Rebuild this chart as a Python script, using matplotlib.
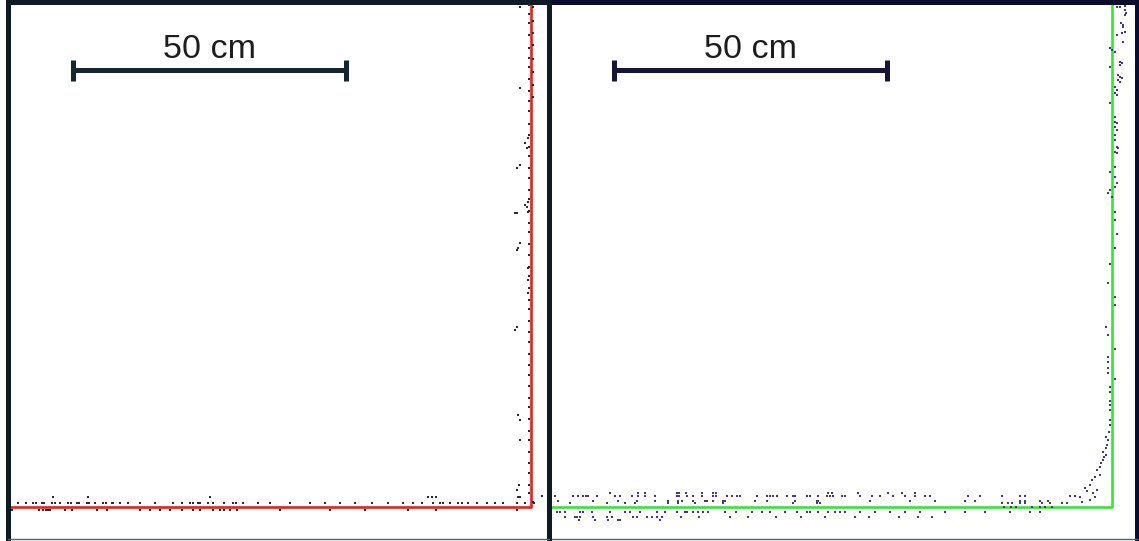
import matplotlib.pyplot as plt
import numpy as np

# два вида сверху: угол стены и точки лидара, масштаб в см
wall_red_x = [-96, 0, 0]
wall_red_y = [0, 0, 93]
wall_green_x = [-103, 0, 0]
wall_green_y = [0, 0, 93]
scale_len = 50
scale_text = "50 cm"

# левая панель: точки вдоль пола (ряды по высоте)
left_row_above = [-94.0, -92.5, -91.2, -90.7, -89.6, -89.2, -87.7, -87.2, -86.3, -84.8,
                  -84.2, -83.1, -82.8, -81.3, -80.9, -79.9, -78.4, -77.8, -76.7, -76.5,
                  -75.3, -73.8, -71.6, -68.9, -65.6, -63.9, -62.5, -61.9, -61.0, -60.6,
                  -59.1, -58.2, -56.2, -54.6, -54.0, -52.7, -50.0, -47.8, -44.1, -40.5,
                  -37.7, -35.0, -32.2, -29.1, -26.2, -23.4, -21.6, -20.0, -18.0, -16.7,
                  -16.1, -14.8, -13.4, -12.6, -11.5, -9.9, -8.1, -6.6, -5.1, -2.6, -1.1]
left_row_below = [-95.1, -90.1, -89.4, -88.8, -88.5, -88.1, -85.3, -84.0, -79.5, -77.7,
                  -71.6, -69.8, -67.9, -66.1, -63.9, -61.9, -60.6, -58.2, -57.0, -56.2,
                  -55.1, -53.8, -46.0, -36.8, -30.4, -22.5, -17.4, -2.6]
left_row_high = [-87.5, -81.1, -58.8, -18.9, -18.1, -17.4, -2.4, -2.0]
# левая панель: точки вдоль стены
left_col = [92.0, 90.3, 88.6, 86.4, 84.1, 82.2, 80.5, 78.3, 76.1, 74.4, 72.5, 70.2, 68.1,
            66.0, 64.2, 62.0, 60.3, 58.1, 56.5, 54.2, 52.0, 50.3, 48.1, 46.2, 44.0, 42.3,
            40.1, 38.0, 36.2, 34.1, 32.0, 30.3, 28.1, 26.0, 24.2, 22.1, 20.0, 18.3, 16.1,
            14.0, 12.2, 10.1, 8.0, 6.2, 4.1, 2.5]
left_col_right = [91.5, 89.0, 86.8, 84.6, 82.0, 79.6, 77.2, 75.0]
left_other_x = [-2.0, -2.0, -0.5, -1.1, -0.7, -2.6, -2.0, -0.5, -1.1, -2.9, -2.6, -0.5,
                -0.7, -2.6, -2.0, -2.4, -0.5, -0.5, -0.5, -2.9, -2.6, -2.4, -2.0, -2.0,
                -2.6, -2.2, 0.3, 0.5, 2.0]
left_other_y = [91.6, 76.7, 67.6, 66.7, 65.8, 62.1, 62.6, 55.9, 55.3, 53.8, 53.8, 54.0,
                54.9, 47.1, 48.4, 47.4, 43.8, 41.6, 39.2, 32.4, 33.0, 16.8, 15.9, 12.3,
                3.1, 4.0, 1.0, 0.8, 2.0]

# правая панель: точки вдоль пола
right_row_26 = [-91.9, -86.8, -85.5, -79.7, -79.3, -78.0, -75.1, -73.1, -72.5, -52.0,
                -51.3, -46.5, -41.0, -38.5, -36.0]
right_row_20 = [-102.0, -98.7, -97.8, -96.9, -96.3, -95.9, -94.3, -91.0, -90.1, -87.9,
                -86.8, -85.5, -83.7, -79.7, -79.3, -77.8, -76.7, -75.1, -73.1, -72.5,
                -70.5, -69.6, -68.7, -68.1, -65.0, -63.2, -62.6, -62.1, -61.4, -59.5,
                -58.4, -58.1, -55.9, -55.3, -53.8, -52.2, -51.6, -51.1, -49.5, -48.9,
                -46.2, -44.0, -42.5, -40.1, -37.9, -36.1, -34.2, -33.3, -26.4, -24.2,
                -20.1, -16.8, -15.9]
right_row_11 = [-101.5, -95.1, -90.5, -87.0, -83.7, -81.3, -79.5, -78.8, -76.7, -74.5,
                -74.2, -73.1, -71.2, -70.8, -65.4, -63.2, -58.1, -54.0, -53.8, -44.3,
                -37.0, -32.4, -26.9, -25.1, -16.8, -15.9, -13.2, -11.7]
right_row_07 = [-99.3, -92.5, -89.2, -87.4, -81.3, -79.5, -76.4, -71.2, -58.4, -54.0,
                -53.5, -20.1, -19.0, -18.3, -16.8, -15.9, -12.8, -11.4, -9.2, -8.2]
right_row_00 = [-19.8, -18.5, -17.6, -14.6, -13.2, -12.3, -11.0]
right_row_m09 = [-101.6, -101.1, -100.2, -97.4, -96.9, -95.2, -91.9, -89.2, -88.3, -86.4,
                 -83.3, -81.9, -79.7, -78.2, -77.8, -76.7, -75.8, -74.9, -74.0, -70.8,
                 -68.9, -65.9, -64.1, -62.6, -59.9, -57.7, -55.9, -55.3, -53.8, -52.0,
                 -50.7, -49.8, -48.9, -46.2, -43.4, -40.7, -37.9, -35.2, -30.6, -26.9,
                 -23.3, -18.7, -15.0, -13.2]
right_row_m18 = [-100.2, -98.4, -98.0, -97.4, -95.1, -92.5, -91.6, -87.7, -87.0, -85.2,
                 -84.2, -83.3, -82.4, -79.0, -75.6, -70.0, -66.7, -61.5, -57.0, -52.6,
                 -47.0, -44.5, -39.0, -35.5, -33.0]
right_row_m24 = [-94.7, -92.3, -90.1, -97.6, -90.5, -82.8]
# правая панель: угол и стена
right_wall_x = [-7.7, -6.8, -5.9, -5.5, -4.0, -3.1, -3.5, -4.6, -5.0, -4.0, -2.7, -3.7,
                -3.1, -2.2, -2.7, -2.2, -2.0, -1.6, -1.5, -1.1, -1.6, -1.1, -0.9, -0.7,
                -1.1, -0.5, -0.4, -0.4, -0.4, -0.4,
                0.9, 1.5, 2.4, 2.4, 2.6, 2.4, 1.6, 2.0, 2.0, 1.8, 2.4, 0.9, 2.0, -0.4,
                0.0, 0.5, 1.5, 1.8, 1.5, -0.4, 1.1, 1.5, 1.8, 1.1, 1.5, 0.5, 0.9, 0.5,
                0.9, -0.4, 0.5, 0.5, 0.9, 0.5, 0.9, 0.5, 0.5, 0.9, 1.1, 0.5, 0.9, 0.5,
                -0.4, 0.5, 0.9, 0.5, -0.4, -0.7, 0.0,
                0.5, 0.5, 0.9, 0.5, -0.4, -0.7, 0.5, 0.5, -1.1, -0.7, 0.5, -0.7, -0.7,
                -0.7, -0.7, 0.5, -0.4, -0.4, -0.4]
right_wall_y = [2.0, 2.0, 1.8, 0.9, 1.3, 1.8, 2.6, 2.9, 3.5, 4.0, 3.1, 4.9,
                5.5, 5.9, 6.8, 7.3, 8.1, 8.6, 9.2, 9.5, 10.1, 10.8, 11.4, 12.3,
                12.8, 13.7, 15.0, 15.9, 17.8, 18.7,
                91.6, 91.6, 91.8, 91.0, 90.5, 90.1, 88.6, 88.3, 87.9, 86.8, 87.0, 86.4,
                85.2, 84.1, 83.7, 83.3, 81.5, 81.3, 81.0, 80.6, 79.1, 78.8, 78.6, 78.2,
                77.8, 76.9, 76.4, 75.8, 75.5, 74.0, 71.4, 70.5, 70.3, 69.6, 69.0, 68.1,
                67.2, 65.9, 65.8, 65.0, 64.8, 62.3, 61.4, 60.4, 59.3, 58.6, 58.1, 57.5,
                56.8,
                54.0, 52.5, 50.0, 47.5, 44.5, 41.0, 38.5, 37.0, 33.0, 31.5, 29.0, 27.5,
                26.5, 25.5, 24.5, 23.5, 22.0, 21.0, 19.5]

red = '#e5221c'
green = '#3fe03a'
left_dark = '#0c1b26'
right_dark = '#0b0b2c'
ms = 1.8

fig = plt.figure(figsize=(11.39, 5.41), dpi=100)
ax1 = fig.add_axes([7.5 / 1139, 2 / 541, 541 / 1139, 537 / 541])
ax2 = fig.add_axes([548.5 / 1139, 2 / 541, 588.5 / 1139, 537 / 541])
ax1.set_zorder(2)
ax1.patch.set_alpha(0)

ax1.set_xlim(-95.88, 3.2)
ax2.set_xlim(-103.2, 4.58)
for ax in (ax1, ax2):
    ax.set_ylim(-5.86, 92.49)
    ax.set_xticks([])
    ax.set_yticks([])

# левая панель
ax1.plot(wall_red_x, wall_red_y, color=red, lw=1.9, zorder=2)
ax1.plot(left_row_above, [0.7] * len(left_row_above), 's', color='#2b2b2b', ms=ms, mew=0, zorder=3)
ax1.plot(left_row_below, [-0.6] * len(left_row_below), 's', color='#2b2b2b', ms=ms, mew=0, zorder=3)
ax1.plot(left_row_high, [1.9] * len(left_row_high), 's', color='#2b2b2b', ms=ms, mew=0, zorder=3)
ax1.plot([-0.35] * len(left_col), left_col, 's', color='#2b2b2b', ms=ms, mew=0, zorder=3)
ax1.plot([0.35] * len(left_col_right), left_col_right, 's', color='#2b2b2b', ms=ms, mew=0, zorder=3)
ax1.plot(left_other_x, left_other_y, 's', color='#2b2b2b', ms=ms, mew=0, zorder=3)

# правая панель
dot_c = '#43388a'
ax2.plot(wall_green_x, wall_green_y, color=green, lw=1.9, zorder=2)
rows = [(right_row_26, 2.6), (right_row_20, 2.0), (right_row_11, 1.1), (right_row_07, 0.7),
        (right_row_00, 0.0), (right_row_m09, -0.9), (right_row_m18, -1.8), (right_row_m24, -2.4)]
for xs, yv in rows:
    ax2.plot(xs, [yv] * len(xs), 's', color=dot_c, ms=ms, mew=0, zorder=3)
ax2.plot(right_wall_x, right_wall_y, 's', color=dot_c, ms=ms, mew=0, zorder=3)

# масштабные отрезки
for ax, x0, col in ((ax1, -83.9, '#14272e'), (ax2, -91.2, '#15153a')):
    y0 = 80.0
    ax.plot([x0, x0 + scale_len], [y0, y0], color=col, lw=3.6, solid_capstyle='butt')
    ax.plot([x0, x0], [y0 - 1.9, y0 + 1.9], color=col, lw=3.6, solid_capstyle='butt')
    ax.plot([x0 + scale_len, x0 + scale_len], [y0 - 1.9, y0 + 1.9], color=col, lw=3.6,
            solid_capstyle='butt')
    ax.text(x0 + scale_len / 2, 82.2, scale_text, ha='center', va='baseline',
            fontsize=24.5, family='Liberation Sans', color='#1c1c1c')

# рамки
for ax, col in ((ax1, left_dark), (ax2, right_dark)):
    for s in ('left', 'top', 'right'):
        ax.spines[s].set_color(col)
        ax.spines[s].set_linewidth(3.6)
    ax.spines['bottom'].set_color('#5a6068')
    ax.spines['bottom'].set_linewidth(1.0)

fig.savefig('out.png', dpi=100)
